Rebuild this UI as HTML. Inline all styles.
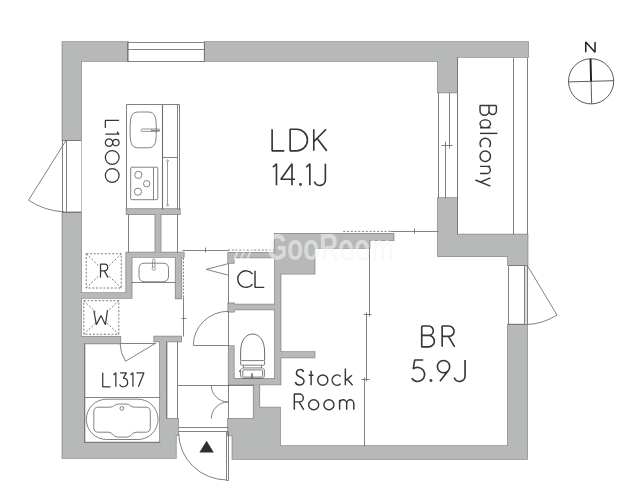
<!DOCTYPE html>
<html><head><meta charset="utf-8"><title>Floor plan</title><style>html,body{margin:0;padding:0;background:#fff;font-family:"Liberation Sans",sans-serif;}svg{display:block}</style></head><body>
<svg width="640" height="493" viewBox="0 0 640 493"><rect width="640" height="493" fill="#ffffff"/><defs><g id="walls"><polygon points="62.5,42 127.8,42 127.8,61 81,61 81,140 62.5,140"/><polygon points="204.7,42 528,42 528,57 457,57 457,92.5 438,92.5 438,61 204.7,61"/><polygon points="62.5,212.4 81,212.4 81,336.8 120.3,336.8 120.3,343.3 84.5,343.3 84.5,442.5 160,442.5 160,341.5 154.2,341.5 154.2,336.5 181.1,336.5 181.1,341.5 166.6,341.5 166.6,418.75 178,418.75 178,435 175.8,435 175.8,458 62.5,458"/><polygon points="81,293 126.25,293 126.25,252.5 183.75,252.5 183.75,257 181.3,257 181.3,298.3 175.7,298.3 175.7,257 131.6,257 131.6,298 81,298"/><rect x="126.6" y="209.1" width="53.20" height="5.00"/><rect x="155.4" y="214.1" width="5.20" height="38.40"/><polygon points="438,198 457,198 457,234.5 527.5,234.5 527.5,265 508,265 508,256.25 438,256.25"/><polygon points="228,418.75 253.75,418.75 253.75,384.5 259.25,384.5 259.25,407.5 280,407.5 280,446 508,446 508,324.5 527,324.5 527,459 232.5,459 232.5,435.5 228,435.5"/><polygon points="274.7,233.75 393.5,233.75 393.5,240.2 369.5,240.2 369.5,248 314.5,248 314.5,273.75 280.5,273.75 280.5,352 314.5,352 314.5,357.5 280.5,357.5 280.5,384.5 228.75,384.5 228.75,346 233.75,346 233.75,378.75 275,378.75 275,309.5 233.9,309.5 233.9,311.7 228.3,311.7 228.3,303.4 233.9,303.4 233.9,304.6 275,304.6 275,257.5 233.75,257.5 233.75,263 228.2,263 228.2,252.8 274.7,252.8"/></g></defs>
<use href="#walls" fill="#b7b8b8" stroke="#8d8d8d" stroke-width="1.7"/>
<use href="#walls" fill="#b7b8b8" stroke="none"/>
<g fill="none" stroke="#747474" stroke-width="0.9"><path d="M127.5,42.5 H204.5 M127.5,49.5 H204.5 M127.5,61.5 H204.5 M127.5,42.5 V61.5 M204.5,42.5 V61.5 "/><path d="M62.5,140.5 V212.5 M66.5,140.5 V212.5 M62.5,140.5 H81.5 M62.5,212.5 H81.5 "/><path d="M81.5,140.5 V212.5 " stroke="#b5b5b5"/><path d="M65.7,141 L28.5,200.2 A70,70 0 0 0 64,211.8"/><path d="M126.5,104.5 H179.5 V209.5 M126.5,104.5 V209.5 M177.5,104.5 V209.5 M162.5,157.5 H177.5 "/><path d="M162.5,104.5 V209.5 " stroke-width="1.1" stroke="#6e6e6e"/><path d="M130.1,130 C130.1,117 131,112 138.5,112 H148 C155.4,112 156.3,117 156.3,130 C156.3,143 155.4,147.8 148,147.8 H138.5 C131,147.8 130.1,143 130.1,130 Z"/><path d="M142.3,129 H158.6 Q159.8,129 159.8,130.2 Q159.8,131.4 158.6,131.4 H142.3 Q141.1,131.4 141.1,130.2 Q141.1,129 142.3,129 Z M151.5,129.5 V131.5 " stroke-width="0.7" stroke="#6a6a6a"/><path d="M151.5,130.5 H159.5 " stroke-width="1.4" stroke="#8a8a8a"/><path d="M131.7,167.2 H156.8 Q157.8,167.2 157.8,168.2 V198.7 Q157.8,199.7 156.8,199.7 H131.7 Q130.7,199.7 130.7,198.7 V168.2 Q130.7,167.2 131.7,167.2 Z M153.5,167.5 V199.5 "/><circle cx="138.3" cy="174.9" r="3.6"/><circle cx="146.7" cy="183.7" r="3.2"/><circle cx="138" cy="191.7" r="3.6"/><path d="M167.5,161.5 V204.5 " stroke-width="0.7"/><circle cx="167.6" cy="160.8" r="0.9" stroke-width="0.7"/><circle cx="167.6" cy="205.2" r="0.9" stroke-width="0.7"/><path d="M128.5,214.5 V252.5 M177.5,214.5 V252.5 "/><path d="M86.25,253.75 H121.25 V288 H86.25 Z M86.25,253.75 L98.15,265.39 M109.35,276.36 L121.25,288 M121.25,253.75 L109.35,265.39 M98.15,276.36 L86.25,288" stroke-dasharray="2 1.7" stroke-width="0.9" stroke="#6a6a6a"/><path d="M83.8,300.7 H118.8 V334.3 H83.8 Z M83.8,300.7 L95.70,312.12 M106.90,322.88 L118.8,334.3 M118.8,300.7 L106.90,312.12 M95.70,322.88 L83.8,334.3" stroke-dasharray="2 1.7" stroke-width="0.9" stroke="#6a6a6a"/><path d="M139,268.5 Q139,263.2 144.5,263.2 H163 Q168.5,263.2 168.5,268.5 V276 Q168.5,281.8 162.5,281.8 H145 Q139,281.8 139,276 Z"/><path d="M152.6,260 Q152.6,258.8 153.75,258.8 Q154.9,258.8 154.9,260 V267 M152.5,260.5 V267.5 " stroke-width="0.7"/><circle cx="153.75" cy="268.6" r="1.7" stroke-width="0.7"/><path d="M183.5,258 V297.5" stroke-dasharray="1.9 1.5"/><path d="M131.5,282.5 H175.5 "/><path d="M183.5,297.5 V336.5 M181.5,318.5 H186.5 "/><path d="M182.5,250.5 H228.5 M205.5,247.5 V252.5 "/><path d="M228,250 H274" stroke-dasharray="2 1.75"/><path d="M343.3,231.4 H390.6" stroke-dasharray="2 1.75"/><path d="M390.5,231.5 H438.5 M414.5,228.5 V233.5 "/><path d="M369.5,247.5 V316.5 M366.5,312.5 V381.5 M364.5,377.5 V446.5 M363.5,314.5 H371.5 M361.5,379.5 H369.5 "/><path d="M438.5,92.5 V198.5 M449.5,92.5 V148.5 M445.5,141.5 V198.5 M457.5,92.5 V198.5 M441.5,145.5 H452.5 "/><path d="M513.5,57.5 V234.5 M527.5,57.5 V234.5 M457.5,57.5 V234.5 "/><rect x="524.5" y="265" width="2.5" height="59.5" fill="#dcdcdc" stroke="none"/><path d="M508.5,265.5 V324.5 M524.5,265.5 V324.5 M527.5,265.5 V324.5 M508.5,265.5 H527.5 M508.5,324.5 H527.5 "/><path d="M527,265 L557,315 A59,59 0 0 1 527,324.5"/><path d="M120.5,343.5 H155.5 M84.5,343.5 V442.5 M84.5,397.5 H160.5 M84.5,442.5 H160.5 "/><path d="M120,343 A36,36 0 0 0 125.5,361.25 L156,343"/><path d="M106.5,399.2 H137.9 A20.15,20.15 0 0 1 137.9,439.5 H106.5 A20.15,20.15 0 0 1 106.5,399.2 Z"/><path d="M98.3,407.2 H110 C114,407.2 114.5,404 118.5,404 H126 C130,404 130.5,407.2 134.5,407.2 H145.8 Q150.3,407.2 150.3,411.7 V427.7 Q150.3,432.2 145.8,432.2 H136 C131.5,432.2 131.5,437.1 127,437.1 H117.5 C113,437.1 113,432.2 108.5,432.2 H98.3 Q93.8,432.2 93.8,427.7 V411.7 Q93.8,407.2 98.3,407.2 Z"/><circle cx="121.9" cy="408.4" r="1.9"/><path d="M177.5,341.5 V418.5 M177.5,385.5 H253.5 M228.5,263.5 V303.5 M228.5,311.5 V346.5 M228.5,384.5 V418.5 M166.5,341.5 V418.5 "/><path d="M211.25,385 A17,17 0 0 0 228,402 A17,17 0 0 0 211.25,418.75"/><path d="M178.5,427.5 H228.5 M178.5,431.5 H228.5 M226.5,431.5 V480.5 M228.5,431.5 V480.5 M226.5,480.5 H228.5 "/><path d="M178.75,433.5 A48.5,47 0 0 0 227,480"/><polygon points="206.6,440.7 199.4,452.6 213.8,452.6" fill="#2e2e2e" stroke="none"/><path d="M193.5,345.5 H228.5 M193.3,345.4 A35.2,34.2 0 0 1 228.5,311.25"/><path d="M228.4,263.6 L206.2,269.4 L228.4,275.2"/><path d="M240.6,360.6 V352 C240.6,340 246,334 252.6,334 C259.2,334 264.6,340 264.6,352 V360.6" stroke="#5c5c5c"/><path d="M241.6,360.6 H263.6 Q264.6,360.6 264.6,361.6 V364.2 Q264.6,365.2 263.6,365.2 H241.6 Q240.6,365.2 240.6,364.2 V361.6 Q240.6,360.6 241.6,360.6 Z" stroke-width="0.8" stroke="#5c5c5c"/><path d="M243.5,365.5 V367.5 M261.5,365.5 V367.5 M242.5,367.9 H262.5 L264.4,369.8 V376.5 L262.5,378.4 H242.5 L240.6,376.5 V369.8 Z M243.8,369.9 H261.6 Q262.6,369.9 262.6,370.9 V376.1 Q262.6,377.1 261.6,377.1 H243.8 Q242.8,377.1 242.8,376.1 V370.9 Q242.8,369.9 243.8,369.9 Z M251.5,378.4 V373.8 Q252.1,373 252.7,373.8 V378.4 M240.6,370.2 L239,371.2 L240.6,372.4" stroke-width="0.8" stroke="#5c5c5c"/></g>
<g transform="rotate(-1.5 591.1 81.3)" fill="none" stroke="#4a4a4a" stroke-width="0.9"><circle cx="591.1" cy="81.3" r="22.6"/><path d="M568.5,81.3 H613.7 M591.1,81.3 V103.9"/><path d="M591.1,58.7 V81.3" stroke="#1e1e1e" stroke-width="1.9"/></g>
<text x="268" y="261" font-family="'Liberation Sans', sans-serif" font-weight="bold" font-size="36.5" textLength="126" lengthAdjust="spacingAndGlyphs" fill="#8a8a8a" fill-opacity="0.07">GooRoom</text>
<text x="267" y="260" font-family="'Liberation Sans', sans-serif" font-weight="bold" font-size="36.5" textLength="126" lengthAdjust="spacingAndGlyphs" fill="#ffffff" fill-opacity="0.5">GooRoom</text>
<path d="M234,260 L241,243 M240.5,260 L248.5,240 M247,260 L256,237" stroke="#fff" stroke-opacity="0.5" stroke-width="2" fill="none"/>
<g transform="translate(272.12,129.22) scale(0.2165)" fill="none" stroke="#363636" stroke-width="1.65" stroke-linejoin="bevel"><path vector-effect="non-scaling-stroke" transform="translate(0.00,0)" d="M0,0 V100 H56"/><path vector-effect="non-scaling-stroke" transform="translate(83.21,0)" d="M0,0 V100 H30 A50,50 0 0 0 30,0 Z"/><path vector-effect="non-scaling-stroke" transform="translate(192.42,0)" d="M0,0 V100 M57,0 L0,57 M15,42 L60,100"/></g><g transform="translate(272.82,163.82) scale(0.2145)" fill="none" stroke="#363636" stroke-width="1.65" stroke-linejoin="bevel"><path vector-effect="non-scaling-stroke" transform="translate(0.00,0)" d="M0,16 L17,0 V100"/><path vector-effect="non-scaling-stroke" transform="translate(37.50,0)" d="M52,100 V0 L0,72 H66"/><path vector-effect="non-scaling-stroke" transform="translate(124.99,0)" d="M1,96.5 a3,3 0 1 0 6,0 a3,3 0 1 0 -6,0"/><path vector-effect="non-scaling-stroke" transform="translate(155.49,0)" d="M0,16 L17,0 V100"/><path vector-effect="non-scaling-stroke" transform="translate(192.99,0)" d="M52,0 V74 A26,26 0 0 1 1,82"/></g><g transform="translate(421.72,326.02) scale(0.2085)" fill="none" stroke="#363636" stroke-width="1.65" stroke-linejoin="bevel"><path vector-effect="non-scaling-stroke" transform="translate(0.00,0)" d="M0,0 V100 H33 A27.5,27.5 0 0 0 33,45 H0 M33,45 A22.5,22.5 0 0 0 33,0 H0"/><path vector-effect="non-scaling-stroke" transform="translate(98.03,0)" d="M0,100 V0 H32 A25,25 0 0 1 32,50 H0 M30,50 L60,100"/></g><g transform="translate(411.32,360.03) scale(0.2125)" fill="none" stroke="#363636" stroke-width="1.65" stroke-linejoin="bevel"><path vector-effect="non-scaling-stroke" transform="translate(0.00,0)" d="M56,0 H16 L9,42 A33,33 0 1 1 2,86"/><path vector-effect="non-scaling-stroke" transform="translate(88.31,0)" d="M1,96.5 a3,3 0 1 0 6,0 a3,3 0 1 0 -6,0"/><path vector-effect="non-scaling-stroke" transform="translate(122.63,0)" d="M0,31 A29,29 0 1 0 58,31 A29,29 0 1 0 0,31 M51.87,48.82 L12,100"/><path vector-effect="non-scaling-stroke" transform="translate(200.94,0)" d="M52,0 V74 A26,26 0 0 1 1,82"/></g><g transform="translate(295.33,369.42) scale(0.1575)" fill="none" stroke="#363636" stroke-width="1.45" stroke-linejoin="bevel"><path vector-effect="non-scaling-stroke" transform="translate(0.00,0)" d="M52,16 C46,-4 8,-6 7,24 C6,52 56,44 55,74 C54,106 6,106 0,80"/><path vector-effect="non-scaling-stroke" transform="translate(85.15,0)" d="M15,8 V100 M0,37 H30"/><path vector-effect="non-scaling-stroke" transform="translate(142.29,0)" d="M0,68 A32,32 0 1 0 64,68 A32,32 0 1 0 0,68"/><path vector-effect="non-scaling-stroke" transform="translate(235.44,0)" d="M52,44.5 A32,32 0 1 0 52,91.5"/><path vector-effect="non-scaling-stroke" transform="translate(317.59,0)" d="M0,-6 V100 M42,37 L0,72 M12,62 L46,100"/></g><g transform="translate(294.33,394.02) scale(0.1575)" fill="none" stroke="#363636" stroke-width="1.45" stroke-linejoin="bevel"><path vector-effect="non-scaling-stroke" transform="translate(0.00,0)" d="M0,100 V0 H32 A25,25 0 0 1 32,50 H0 M30,50 L60,100"/><path vector-effect="non-scaling-stroke" transform="translate(90.82,0)" d="M0,68 A32,32 0 1 0 64,68 A32,32 0 1 0 0,68"/><path vector-effect="non-scaling-stroke" transform="translate(187.64,0)" d="M0,68 A32,32 0 1 0 64,68 A32,32 0 1 0 0,68"/><path vector-effect="non-scaling-stroke" transform="translate(287.46,0)" d="M0,37 V100 M0,60 A22.5,23 0 0 1 45,60 V100 M45,60 A22.5,23 0 0 1 90,60 V100"/></g><g transform="translate(238.72,270.82) scale(0.1655)" fill="none" stroke="#363636" stroke-width="1.45" stroke-linejoin="bevel"><path vector-effect="non-scaling-stroke" transform="translate(0.00,0)" d="M84,20 A50,50 0 1 0 84,80"/><path vector-effect="non-scaling-stroke" transform="translate(98.38,0)" d="M0,0 V100 H56"/></g><g transform="translate(102.72,372.82) scale(0.1395)" fill="none" stroke="#363636" stroke-width="1.25" stroke-linejoin="bevel"><path vector-effect="non-scaling-stroke" transform="translate(0.00,0)" d="M0,0 V100 H56"/><path vector-effect="non-scaling-stroke" transform="translate(77.17,0)" d="M0,16 L17,0 V100"/><path vector-effect="non-scaling-stroke" transform="translate(120.35,0)" d="M4,0 H50 L27,38 A31,31 0 1 1 0,84"/><path vector-effect="non-scaling-stroke" transform="translate(199.52,0)" d="M0,16 L17,0 V100"/><path vector-effect="non-scaling-stroke" transform="translate(241.70,0)" d="M0,0 H54 L14,100"/></g><g transform="translate(100.53,264.12) scale(0.1258,0.1355)" fill="none" stroke="#363636" stroke-width="1.25" stroke-linejoin="bevel"><path vector-effect="non-scaling-stroke" transform="translate(0.00,0)" d="M0,100 V0 H32 A25,25 0 0 1 32,50 H0 M30,50 L60,100"/></g>
<g transform="translate(119.08,120.42) rotate(90) scale(0.1375)" fill="none" stroke="#363636" stroke-width="1.25" stroke-linejoin="bevel"><path vector-effect="non-scaling-stroke" transform="translate(0.00,0)" d="M0,0 V100 H56"/><path vector-effect="non-scaling-stroke" transform="translate(82.64,0)" d="M0,16 L17,0 V100"/><path vector-effect="non-scaling-stroke" transform="translate(132.27,0)" d="M29,46 A23,23 0 1 0 29,0 A23,23 0 1 0 29,46 A27,27 0 1 0 29,100 A27,27 0 1 0 29,46"/><path vector-effect="non-scaling-stroke" transform="translate(219.91,0)" d="M0,50 A50,50 0 1 0 100,50 A50,50 0 1 0 0,50"/><path vector-effect="non-scaling-stroke" transform="translate(350.55,0)" d="M0,50 A50,50 0 1 0 100,50 A50,50 0 1 0 0,50"/></g>
<g transform="translate(496.38,105.42) rotate(90) scale(0.1635)" fill="none" stroke="#363636" stroke-width="1.45" stroke-linejoin="bevel"><path vector-effect="non-scaling-stroke" transform="translate(0.00,0)" d="M0,0 V100 H33 A27.5,27.5 0 0 0 33,45 H0 M33,45 A22.5,22.5 0 0 0 33,0 H0"/><path vector-effect="non-scaling-stroke" transform="translate(88.55,0)" d="M48,68 A24,32 0 1 0 0,68 A24,32 0 1 0 48,68 M48,37 V100"/><path vector-effect="non-scaling-stroke" transform="translate(170.09,0)" d="M1,-6 V100"/><path vector-effect="non-scaling-stroke" transform="translate(202.64,0)" d="M52,44.5 A32,32 0 1 0 52,91.5"/><path vector-effect="non-scaling-stroke" transform="translate(279.18,0)" d="M0,68 A32,32 0 1 0 64,68 A32,32 0 1 0 0,68"/><path vector-effect="non-scaling-stroke" transform="translate(372.73,0)" d="M0,37 V100 M0,60 A22,23 0 0 1 44,60 V100"/><path vector-effect="non-scaling-stroke" transform="translate(443.27,0)" d="M0,37 L26,98 M50,37 L13,128"/></g>
<path d="M93.9,310.6 L96.3,324.6 L101,315.6 L105.4,324.8 L107.5,310.1" fill="none" stroke="#3a3a3a" stroke-width="1.2" stroke-linejoin="bevel"/>
<g transform="translate(585.75,42.05) scale(0.1329,0.1010)" fill="none" stroke="#222" stroke-width="1.5" stroke-linejoin="bevel"><path vector-effect="non-scaling-stroke" transform="translate(0.00,0)" d="M0,100 V0 L70,100 V0"/></g></svg>
</body></html>
